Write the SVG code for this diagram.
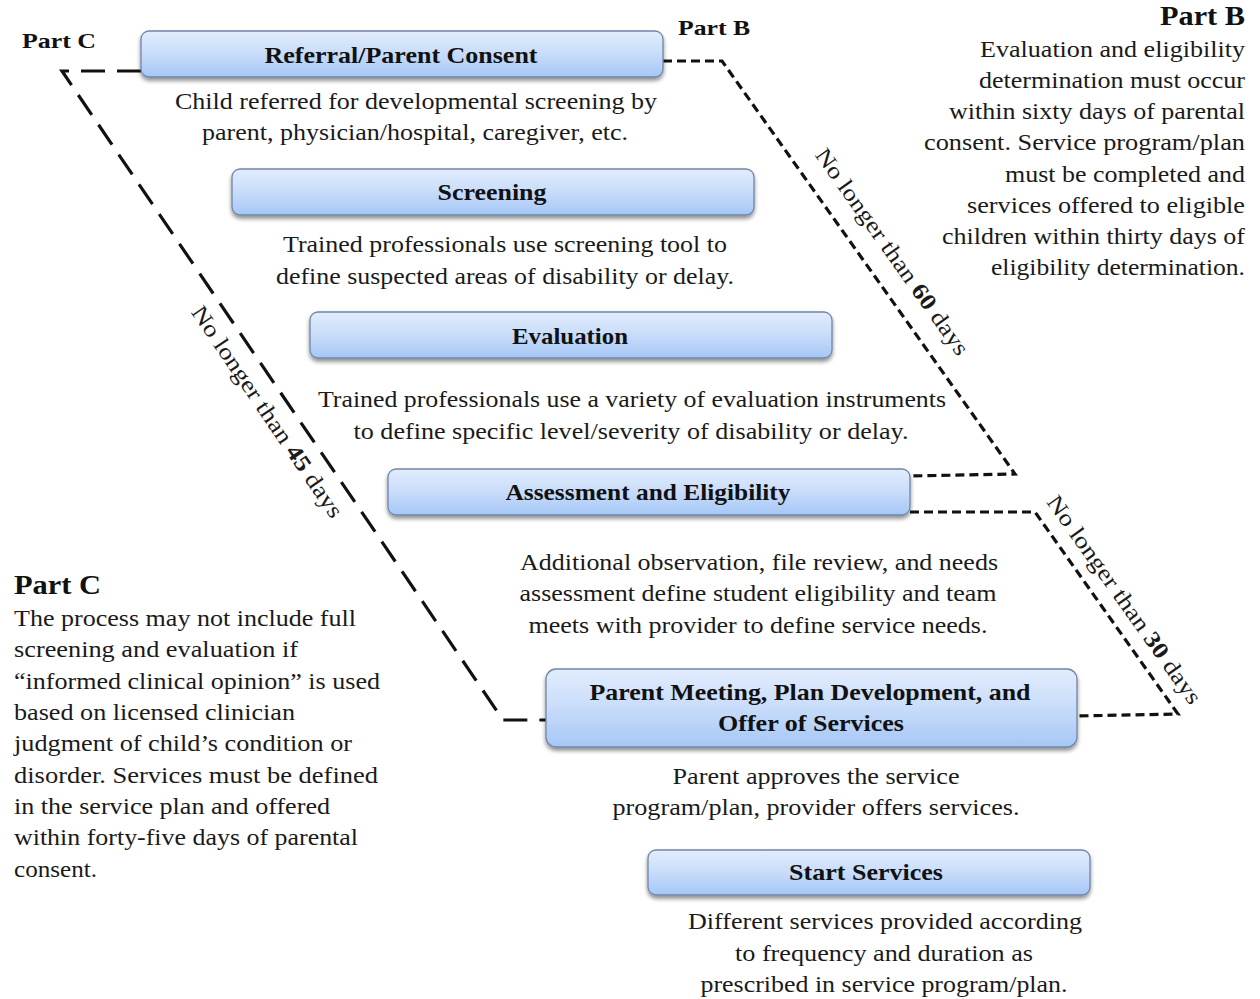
<svg xmlns="http://www.w3.org/2000/svg" width="1260" height="999" viewBox="0 0 1260 999">
  <defs>
    <linearGradient id="boxFill" x1="0" y1="0" x2="0" y2="1">
      <stop offset="0" stop-color="#e2edfd"/>
      <stop offset="0.5" stop-color="#c8dcfa"/>
      <stop offset="1" stop-color="#a5c7f6"/>
    </linearGradient>
    <filter id="shadow" x="-5%" y="-20%" width="110%" height="150%">
      <feGaussianBlur in="SourceAlpha" stdDeviation="2"/>
      <feOffset dx="0" dy="3" result="b"/>
      <feComponentTransfer><feFuncA type="linear" slope="0.45"/></feComponentTransfer>
      <feMerge><feMergeNode/><feMergeNode in="SourceGraphic"/></feMerge>
    </filter>
  </defs>
  <style>
    text { font-family: "Liberation Serif", "Times New Roman", serif; }
    .box { fill: url(#boxFill); stroke: #6f86a8; stroke-width: 1.3; filter: url(#shadow); }
    .title { font-weight: bold; font-size: 23px; fill: #111; text-anchor: middle; }
    .body { font-size: 24px; fill: #1a1a1a; text-anchor: middle; }
    .note { font-size: 24px; fill: #1a1a1a; }
    .end { text-anchor: end; }
    .head { font-weight: bold; font-size: 22px; fill: #111; }
    .headL { font-weight: bold; font-size: 28px; fill: #111; }
    .lbl { font-size: 23px; fill: #1a1a1a; text-anchor: middle; }
    .partB { fill: none; stroke: #111; stroke-width: 3.2; stroke-dasharray: 9 5; }
    .partC { fill: none; stroke: #111; stroke-width: 3.2; stroke-dasharray: 24 12; }
  </style>

  <rect width="1260" height="999" fill="#ffffff"/>

  <!-- timeline connectors -->
  <g id="connectors">
    <polyline class="partB" points="663,61 722,61 1015,474 910,476"/>
    <polyline class="partB" points="910,512 1035,512 1178,714 1077,716"/>
    <polyline class="partC" points="141,71 62,71 503,720 546,720"/>
  </g>

  <!-- deadline labels along the connectors -->
  <g id="deadline-labels">
    <text class="lbl" transform="translate(886,256) rotate(54.6)" textLength="248" lengthAdjust="spacingAndGlyphs">No longer than <tspan font-weight="bold">60</tspan> days</text>
    <text class="lbl" transform="translate(1118,604) rotate(54.7)" textLength="250" lengthAdjust="spacingAndGlyphs">No longer than <tspan font-weight="bold">30</tspan> days</text>
    <text class="lbl" transform="translate(261,416) rotate(55.8)" textLength="251" lengthAdjust="spacingAndGlyphs">No longer than <tspan font-weight="bold">45</tspan> days</text>
  </g>

  <g id="label-partC-top"><text class="head" x="22" y="48" textLength="74" lengthAdjust="spacingAndGlyphs">Part C</text></g>
  <g id="label-partB-top"><text class="head" x="678" y="35" textLength="72" lengthAdjust="spacingAndGlyphs">Part B</text></g>

  <g id="referral">
    <rect class="box" x="141" y="31" width="522" height="46" rx="8"/>
    <text class="title" x="401" y="63" textLength="273" lengthAdjust="spacingAndGlyphs">Referral/Parent Consent</text>
    <text class="body" x="416" y="109" textLength="482" lengthAdjust="spacingAndGlyphs">Child referred for developmental  screening by</text>
    <text class="body" x="415" y="140" textLength="426" lengthAdjust="spacingAndGlyphs">parent, physician/hospital,  caregiver, etc.</text>
  </g>

  <g id="screening">
    <rect class="box" x="232" y="169" width="522" height="46" rx="8"/>
    <text class="title" x="492" y="200" textLength="109" lengthAdjust="spacingAndGlyphs">Screening</text>
    <text class="body" x="505" y="252" textLength="444" lengthAdjust="spacingAndGlyphs">Trained professionals use screening tool to</text>
    <text class="body" x="505" y="284" textLength="458" lengthAdjust="spacingAndGlyphs">define suspected areas of disability or delay.</text>
  </g>

  <g id="evaluation">
    <rect class="box" x="310" y="312" width="522" height="46" rx="8"/>
    <text class="title" x="570" y="344" textLength="116" lengthAdjust="spacingAndGlyphs">Evaluation</text>
    <text class="body" x="632" y="407" textLength="628" lengthAdjust="spacingAndGlyphs">Trained professionals use a variety of evaluation instruments</text>
    <text class="body" x="631" y="439" textLength="555" lengthAdjust="spacingAndGlyphs">to define specific level/severity of disability or delay.</text>
  </g>

  <g id="assessment">
    <rect class="box" x="388" y="469" width="522" height="46" rx="8"/>
    <text class="title" x="648" y="500" textLength="285" lengthAdjust="spacingAndGlyphs">Assessment and  Eligibility</text>
    <text class="body" x="759" y="570" textLength="478" lengthAdjust="spacingAndGlyphs">Additional observation, file review, and needs</text>
    <text class="body" x="758" y="601" textLength="477" lengthAdjust="spacingAndGlyphs">assessment define student eligibility and team</text>
    <text class="body" x="758" y="633" textLength="459" lengthAdjust="spacingAndGlyphs">meets with provider to define service needs.</text>
  </g>

  <g id="plan">
    <rect class="box" x="546" y="669" width="531" height="78" rx="10"/>
    <text class="title" x="810" y="700" textLength="441" lengthAdjust="spacingAndGlyphs">Parent Meeting, Plan Development, and</text>
    <text class="title" x="811" y="731" textLength="186" lengthAdjust="spacingAndGlyphs">Offer of Services</text>
    <text class="body" x="816" y="784" textLength="287" lengthAdjust="spacingAndGlyphs">Parent approves the service</text>
    <text class="body" x="816" y="815" textLength="407" lengthAdjust="spacingAndGlyphs">program/plan,  provider offers services.</text>
  </g>

  <g id="start">
    <rect class="box" x="648" y="850" width="442" height="45" rx="8"/>
    <text class="title" x="866" y="880" textLength="154" lengthAdjust="spacingAndGlyphs">Start Services</text>
    <text class="body" x="885" y="929" textLength="394" lengthAdjust="spacingAndGlyphs">Different services provided according</text>
    <text class="body" x="884" y="961" textLength="298" lengthAdjust="spacingAndGlyphs">to frequency  and duration as</text>
    <text class="body" x="884" y="992" textLength="367" lengthAdjust="spacingAndGlyphs">prescribed in service program/plan.</text>
  </g>

  <g id="note-partB">
    <text class="headL end" x="1245" y="25" textLength="85" lengthAdjust="spacingAndGlyphs">Part B</text>
    <text class="note end" x="1245" y="57" textLength="265" lengthAdjust="spacingAndGlyphs">Evaluation and eligibility</text>
    <text class="note end" x="1245" y="88" textLength="266" lengthAdjust="spacingAndGlyphs">determination  must  occur</text>
    <text class="note end" x="1245" y="119" textLength="296" lengthAdjust="spacingAndGlyphs">within sixty days of parental</text>
    <text class="note end" x="1245" y="150" textLength="321" lengthAdjust="spacingAndGlyphs">consent.   Service program/plan</text>
    <text class="note end" x="1245" y="182" textLength="240" lengthAdjust="spacingAndGlyphs">must  be completed  and</text>
    <text class="note end" x="1245" y="213" textLength="278" lengthAdjust="spacingAndGlyphs">services offered to eligible</text>
    <text class="note end" x="1245" y="244" textLength="303" lengthAdjust="spacingAndGlyphs">children within thirty  days of</text>
    <text class="note end" x="1245" y="275" textLength="254" lengthAdjust="spacingAndGlyphs">eligibility determination.</text>
  </g>

  <g id="note-partC">
    <text class="headL" x="14" y="594" textLength="87" lengthAdjust="spacingAndGlyphs">Part C</text>
    <text class="note" x="14" y="626" textLength="342" lengthAdjust="spacingAndGlyphs">The process may  not include  full</text>
    <text class="note" x="14" y="657" textLength="284" lengthAdjust="spacingAndGlyphs">screening  and evaluation if</text>
    <text class="note" x="14" y="689" textLength="366" lengthAdjust="spacingAndGlyphs">“informed  clinical opinion” is used</text>
    <text class="note" x="14" y="720" textLength="281" lengthAdjust="spacingAndGlyphs">based on licensed clinician</text>
    <text class="note" x="14" y="751" textLength="338" lengthAdjust="spacingAndGlyphs">judgment  of child’s condition  or</text>
    <text class="note" x="14" y="783" textLength="364" lengthAdjust="spacingAndGlyphs">disorder.  Services must  be defined</text>
    <text class="note" x="14" y="814" textLength="316" lengthAdjust="spacingAndGlyphs">in the service plan and offered</text>
    <text class="note" x="14" y="845" textLength="344" lengthAdjust="spacingAndGlyphs">within forty-five  days of parental</text>
    <text class="note" x="14" y="877" textLength="83" lengthAdjust="spacingAndGlyphs">consent.</text>
  </g>
</svg>
